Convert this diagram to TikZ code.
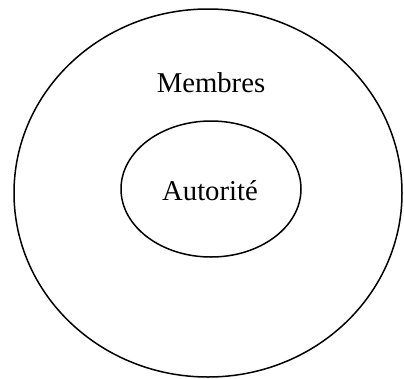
\documentclass[tikz,border=0pt]{standalone}
\usepackage{fontspec}
\setmainfont{Liberation Serif}
\begin{document}
\begin{tikzpicture}[x=1pt,y=-1pt,
  ring/.style={draw=black,line width=1.5pt},
  lab/.style={font=\fontsize{28.7}{30}\selectfont,anchor=base,inner sep=0pt}]
\useasboundingbox (0,0) rectangle (404,378);
\draw[ring] (208,193) ellipse [x radius=194, y radius=184];
\draw[ring] (211,189) ellipse [x radius=90, y radius=68];
\node[lab] (membres) at (211,92) {Membres};
\node[lab] (autorite) at (210,200) {Autorité};
\end{tikzpicture}
\end{document}
